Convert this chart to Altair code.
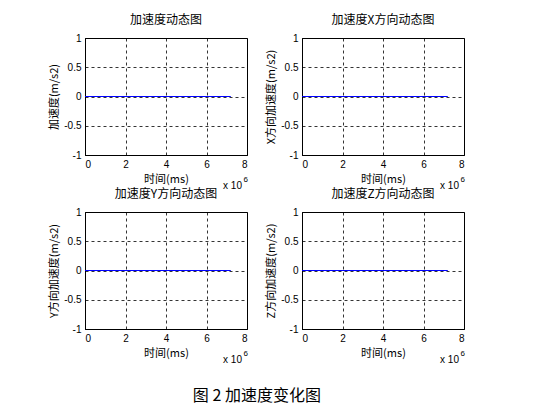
import altair as alt
import pandas as pd

# Data (time in ms, acceleration in m/s2)
time_ms = [0, 7200000]
accel_total = [0, 0]
accel_x = [0, 0]
accel_y = [0, 0]
accel_z = [0, 0]

panel_titles = ["加速度动态图", "加速度X方向动态图", "加速度Y方向动态图", "加速度Z方向动态图"]
y_titles = ["加速度(m/s2)", "X方向加速度(m/s2)", "Y方向加速度(m/s2)", "Z方向加速度(m/s2)"]
x_title = "时间(ms)"
x_ticks = [0, 2000000, 4000000, 6000000, 8000000]
y_ticks = [-1, -0.5, 0, 0.5, 1]
caption = "图 2  加速度变化图"

CJK = "Noto Sans CJK SC"
LAT = "Liberation Sans"
W, H = 162, 117


def panel(title, ytitle, values):
    df = pd.DataFrame({"t": time_ms, "a": values})
    base = alt.Chart(df)
    line = base.mark_line(color="#0000ff", strokeWidth=1.1, clip=True).encode(
        x=alt.X("t:Q", scale=alt.Scale(domain=[0, 8000000], nice=False),
                axis=alt.Axis(values=x_ticks, title=x_title,
                              labelExpr="format(datum.value / 1000000, 'd')")),
        y=alt.Y("a:Q", scale=alt.Scale(domain=[-1, 1], nice=False),
                axis=alt.Axis(values=y_ticks, title=ytitle,
                              labelExpr="replace(format(datum.value, '~g'), '\u2212', '-')")),
    )
    exp_base = alt.Chart(pd.DataFrame({"t": [8000000]}))
    x10 = exp_base.mark_text(align="right", baseline="middle", font=LAT, fontSize=10,
                             color="black", dx=-5).encode(
        x=alt.X("t:Q"), y=alt.value(H + 31), text=alt.value("x 10"))
    sup = exp_base.mark_text(align="right", baseline="middle", font=LAT, fontSize=8,
                             color="black", dx=1).encode(
        x=alt.X("t:Q"), y=alt.value(H + 25), text=alt.value("6"))
    return alt.layer(line, x10, sup).properties(
        width=W, height=H,
        title=alt.TitleParams(title, font=CJK, fontSize=12, fontWeight="normal",
                              color="black", offset=6),
    )


panels = [
    panel(panel_titles[0], y_titles[0], accel_total),
    panel(panel_titles[1], y_titles[1], accel_x),
    panel(panel_titles[2], y_titles[2], accel_y),
    panel(panel_titles[3], y_titles[3], accel_z),
]

chart = alt.concat(
    *panels, columns=2, spacing={"column": 55, "row": 57}, bounds="flush"
).properties(
    title=alt.TitleParams(caption, orient="bottom", anchor="middle", font=CJK,
                          fontSize=16, fontWeight="normal", color="black", offset=22),
    padding={"left": 40, "top": 5, "right": 5, "bottom": 5},
).configure_view(
    stroke="black", strokeWidth=1
).configure_axis(
    grid=True, gridColor="black", gridDash=[3, 3], gridOpacity=1, gridWidth=0.8,
    domainColor="black", domainWidth=1, ticks=False, zindex=0,
    labelFont=LAT, labelFontSize=10, labelColor="black", labelPadding=4,
    titleFont=CJK, titleFontSize=11, titleFontWeight="normal", titleColor="black",
    titlePadding=4,
)

chart.save("out.html", embed_options={"renderer": "svg", "actions": False})
